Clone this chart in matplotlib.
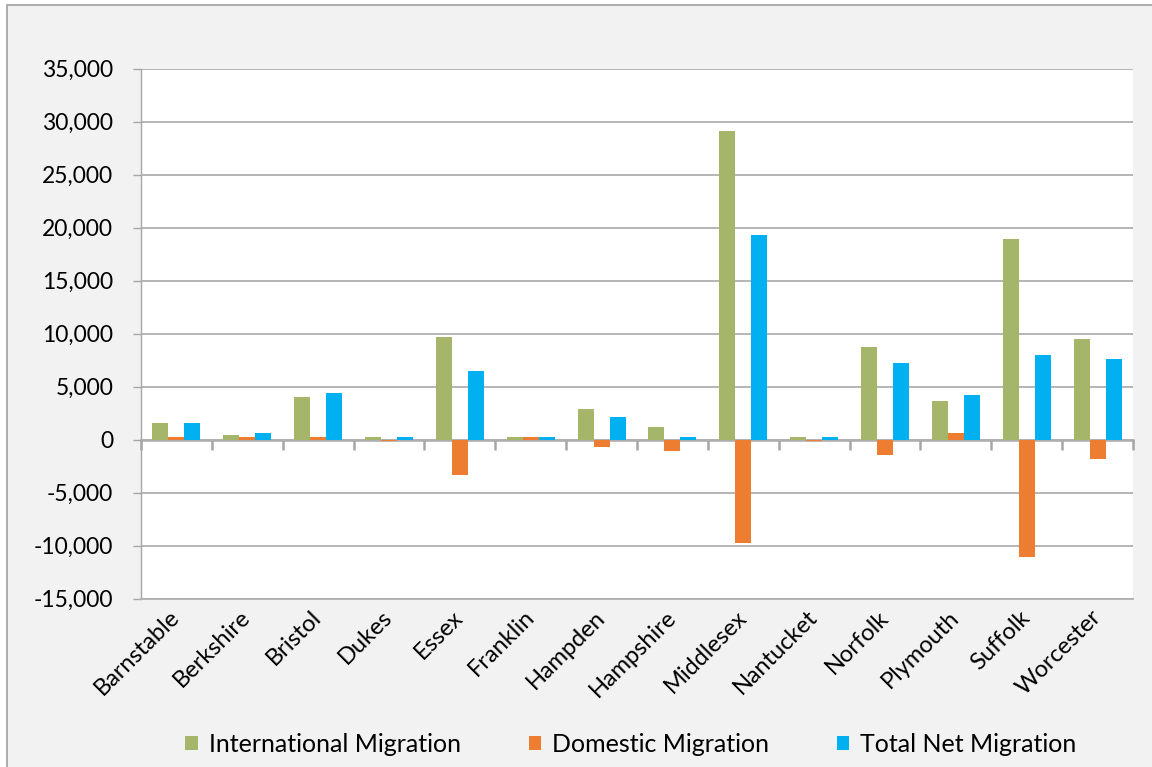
import numpy as np
import matplotlib.pyplot as plt
from matplotlib.patches import Rectangle

counties = ["Barnstable", "Berkshire", "Bristol", "Dukes", "Essex", "Franklin",
            "Hampden", "Hampshire", "Middlesex", "Nantucket", "Norfolk",
            "Plymouth", "Suffolk", "Worcester"]
international = [1540, 400, 3990, 220, 9690, 220, 2860, 1160, 29120, 220,
                 8710, 3610, 18930, 9460]
domestic = [220, 220, 220, -150, -3370, 220, -700, -1100, -9750, -150,
            -1450, 600, -11070, -1830]
total_net = [1540, 600, 4370, 220, 6480, 220, 2100, 220, 19310, 220,
             7200, 4180, 7950, 7580]

series = [("International Migration", international, "#a5b56a"),
          ("Domestic Migration", domestic, "#ed7d31"),
          ("Total Net Migration", total_net, "#00b0f0")]

plt.rcParams['font.family'] = ['Lato', 'DejaVu Sans']
grey = "#a6a6a6"
fs = 16.5

fig = plt.figure(figsize=(11.52, 7.67), dpi=100)
fig.patch.set_facecolor("white")
# grey chart panel with its border (left and top edges visible)
fig.patches.append(Rectangle((7 / 1152, -0.05), 1.2, 0.9935 + 0.05,
                             transform=fig.transFigure, facecolor="#f2f2f2",
                             edgecolor=grey, linewidth=1.3, zorder=-10))

ax = fig.add_axes([141 / 1152, 1 - 598.7 / 767, (1133 - 141) / 1152, (598.7 - 68.7) / 767])
ax.set_facecolor("white")

x = np.arange(len(counties))
w = 0.226
for i, (name, vals, col) in enumerate(series):
    ax.bar(x + (i - 1) * w, vals, width=w, color=col, label=name, zorder=3)

ymin, ymax = -15000, 35000
ax.set_ylim(ymin, ymax)
ax.set_xlim(-0.5, len(counties) - 0.5)
ax.set_yticks(np.arange(ymin, ymax + 1, 5000))
ax.set_yticklabels([f"{v:,}" for v in range(ymin, ymax + 1, 5000)], fontsize=fs)
ax.yaxis.grid(True, color="#b0b0b0", linewidth=1.3, zorder=1)
ax.tick_params(axis="y", length=6, width=1.0, color=grey, pad=14)

ax.set_xticks(x)
ax.set_xticklabels(counties, rotation=45, ha="right", va="center",
                   rotation_mode="anchor", fontsize=17)
ax.tick_params(axis="x", length=0, pad=11)

for s in ["top", "right"]:
    ax.spines[s].set_visible(False)
ax.spines["left"].set_color(grey)
ax.spines["left"].set_linewidth(1.0)
ax.spines["bottom"].set_color("#b0b0b0")
ax.spines["bottom"].set_linewidth(1.3)

# category axis crossing at zero with tick marks between categories
zero_frac = (0 - ymin) / (ymax - ymin)
sec = ax.secondary_xaxis(zero_frac)
sec.set_xticks(np.arange(-0.5, len(counties), 1.0))
sec.set_xticklabels([])
sec.tick_params(length=7, width=1.8, color=grey, direction="out")
sec.spines["bottom"].set_color(grey)
sec.spines["bottom"].set_linewidth(1.8)
sec.spines["bottom"].set_zorder(4)

fig.legend(loc="center", bbox_to_anchor=(631 / 1152, 1 - 744 / 767), ncol=3,
           frameon=False, fontsize=18, handlelength=0.5, handleheight=0.5,
           handletextpad=0.45, columnspacing=2.7)

fig.savefig("out.png", dpi=100)
